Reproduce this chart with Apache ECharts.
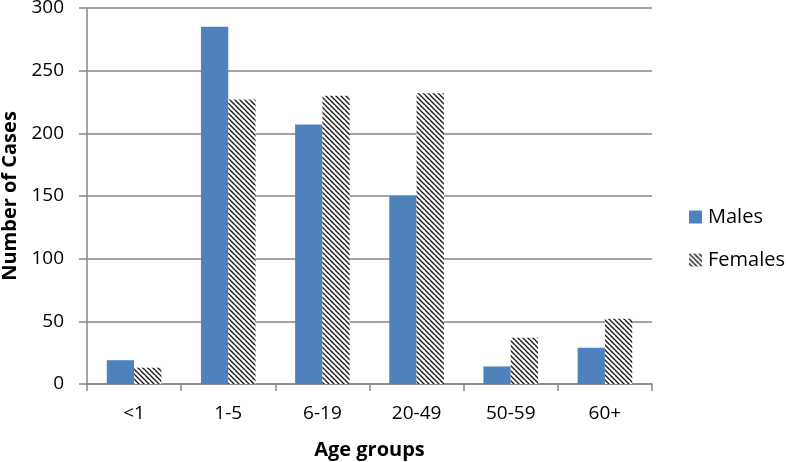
<!DOCTYPE html>
<html>
<head>
<meta charset="utf-8">
<script src="https://cdn.jsdelivr.net/npm/echarts@6/dist/echarts.min.js"></script>
<style>
html,body{margin:0;padding:0;background:#fff;}
#c{width:786px;height:462px;}
</style>
</head>
<body>
<div id="c"></div>
<script>
const categories = ['<1', '1-5', '6-19', '20-49', '50-59', '60+'];
const males = [19, 285, 207, 150, 14, 29];
const females = [13, 227, 230, 232, 37, 52];
const yTicks = [0, 50, 100, 150, 200, 250, 300];

function hatch() {
  const s = 5;
  const cv = document.createElement('canvas');
  cv.width = s; cv.height = s;
  const ctx = cv.getContext('2d');
  ctx.fillStyle = '#ffffff';
  ctx.fillRect(0, 0, s, s);
  ctx.strokeStyle = '#1a1a1a';
  ctx.lineWidth = 1.4;
  ctx.beginPath();
  ctx.moveTo(0, 0); ctx.lineTo(s, s);
  ctx.moveTo(-s, 0); ctx.lineTo(0, s);
  ctx.moveTo(s, -s); ctx.lineTo(2 * s, s);
  ctx.moveTo(0, -s); ctx.lineTo(s, 0);
  ctx.moveTo(0, s); ctx.lineTo(s, 2 * s);
  ctx.stroke();
  return { image: cv, repeat: 'repeat' };
}
const pat = hatch();

const chart = echarts.init(document.getElementById('c'), null, { renderer: 'canvas' });
const font = 'Open Sans, Liberation Sans, sans-serif';
chart.setOption({
  animation: false,
  textStyle: { fontFamily: font },
  grid: { left: 87, right: 134, top: 8, bottom: 78, containLabel: false, outerBoundsMode: 'none' },
  legend: {
    orient: 'vertical',
    left: 689,
    top: 207,
    padding: 0,
    itemWidth: 13,
    itemHeight: 13,
    itemGap: 23,
    textStyle: { fontSize: 20, lineHeight: 20, color: '#000', fontFamily: font, padding: [0, 0, 0, 1] },
    data: [
      { name: 'Males', icon: 'rect' },
      { name: 'Females', icon: 'rect' }
    ]
  },
  xAxis: {
    type: 'category',
    data: categories,
    name: 'Age groups',
    nameLocation: 'middle',
    nameGap: 56,
    nameTextStyle: { fontSize: 20, fontWeight: 'bold', color: '#000', fontFamily: font },
    axisLine: { lineStyle: { color: '#868686', width: 1.5 } },
    axisTick: { show: true, length: 7, lineStyle: { color: '#868686', width: 1.5 } },
    axisLabel: { fontSize: 19, color: '#000', margin: 20, fontFamily: font }
  },
  yAxis: {
    type: 'value',
    min: 0, max: 300, interval: 50,
    name: 'Number of Cases',
    nameLocation: 'middle',
    nameGap: 67,
    nameTextStyle: { fontSize: 20, fontWeight: 'bold', color: '#000', fontFamily: font },
    axisLine: { show: true, lineStyle: { color: '#868686', width: 1.5 } },
    axisTick: { show: true, length: 8, lineStyle: { color: '#868686', width: 1.5 } },
    splitLine: { lineStyle: { color: '#868686', width: 1.5 } },
    axisLabel: {
      fontSize: 19, color: '#000', margin: 23, fontFamily: font,
      formatter: v => yTicks.includes(v) ? String(v) : ''
    }
  },
  series: [
    {
      name: 'Males', type: 'bar', data: males,
      barGap: '0%', barCategoryGap: '42%',
      itemStyle: { color: '#4f81bd' }
    },
    {
      name: 'Females', type: 'bar', data: females,
      barGap: '0%', barCategoryGap: '42%',
      itemStyle: { color: pat }
    }
  ]
});
</script>
</body>
</html>
